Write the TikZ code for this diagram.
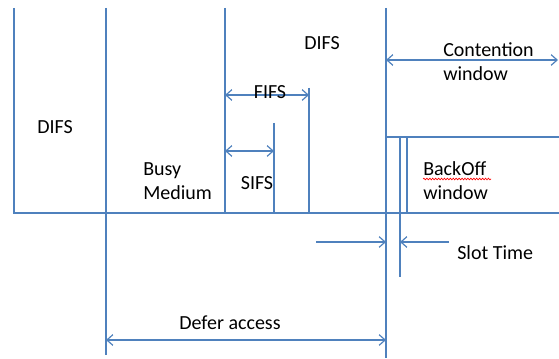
\documentclass[tikz,border=0pt]{standalone}
\usepackage{fontspec}
\setmainfont{Carlito}
\usetikzlibrary{arrows.meta,decorations.pathmorphing}
\definecolor{lineblue}{RGB}{79,129,189}
\tikzset{
  ln/.style={draw=lineblue, line width=0.9pt},
  arr/.style={ln, -{Straight Barb[length=4.5pt,width=8pt]}},
  darr/.style={ln, {Straight Barb[length=4.5pt,width=8pt]}-{Straight Barb[length=4.5pt,width=8pt]}},
  lbl/.style={inner sep=0pt, font=\fontsize{15pt}{18pt}\selectfont, text=black},
  lbll/.style={lbl, anchor=west, align=left}
}
\begin{document}
\begin{tikzpicture}[x=0.75pt,y=-0.75pt]
\useasboundingbox (0,0) rectangle (559,359);
% coordinates
\coordinate (bl) at (14,213);
\coordinate (br) at (559,213);
\coordinate (v1t) at (14,8);
\coordinate (v2t) at (106,8);   \coordinate (v2b) at (106,355);
\coordinate (v3t) at (225,8);   \coordinate (v3b) at (225,213);
\coordinate (v4t) at (274,123); \coordinate (v4b) at (274,213);
\coordinate (v5t) at (309,88);  \coordinate (v5b) at (309,213);
\coordinate (v6t) at (386,8);   \coordinate (v6b) at (386,358);
\coordinate (h2l) at (386,137); \coordinate (h2r) at (559,137);
\coordinate (v7t) at (400,137); \coordinate (v7b) at (400,277);
\coordinate (v8t) at (407,137); \coordinate (v8b) at (407,213);
% lines
\draw[ln] (v1t) -- (bl) -- (br);
\draw[ln] (v2t) -- (v2b);
\draw[ln] (v3t) -- (v3b);
\draw[ln] (v4t) -- (v4b);
\draw[ln] (v5t) -- (v5b);
\draw[ln] (v6t) -- (v6b);
\draw[ln] (h2l) -- (h2r);
\draw[ln] (v7t) -- (v7b);
\draw[ln] (v8t) -- (v8b);
% arrows
\coordinate (fifsl) at (225,95); \coordinate (fifsr) at (309,95);
\draw[darr] (fifsl) -- (fifsr);
\coordinate (sifsl) at (225,151); \coordinate (sifsr) at (274,151);
\draw[darr] (sifsl) -- (sifsr);
\coordinate (cwl) at (386,60); \coordinate (cwr) at (558,60);
\draw[darr] (cwl) -- (cwr);
\coordinate (s1a) at (316,242); \coordinate (s1b) at (386,242);
\draw[arr] (s1a) -- (s1b);
\coordinate (s2a) at (449,242); \coordinate (s2b) at (400,242);
\draw[arr] (s2a) -- (s2b);
\coordinate (dal) at (106,340); \coordinate (dar) at (386,340);
\draw[darr] (dal) -- (dar);
% labels
\node[lbl] (difs1) at (55,127) {DIFS};
\node[lbll] (busy) at (143,181) {Busy\\Medium};
\node[lbl] (sifs) at (257,183) {SIFS};
\node[lbl] (fifs) at (270,92) {FIFS};
\node[lbl] (difs2) at (322,43) {DIFS};
\node[lbll] (cont) at (443,62) {Contention\\window};
\node[lbll] (back) at (423,181) {BackOff\\window};
\node[lbl, anchor=west] (slot) at (457,253) {Slot Time};
\node[lbl] (defer) at (230,323) {Defer access};
\draw[red, line width=0.5pt, decorate, decoration={snake, amplitude=0.6pt, segment length=2.2pt}] (423,179) -- (491,179);
\end{tikzpicture}
\end{document}
